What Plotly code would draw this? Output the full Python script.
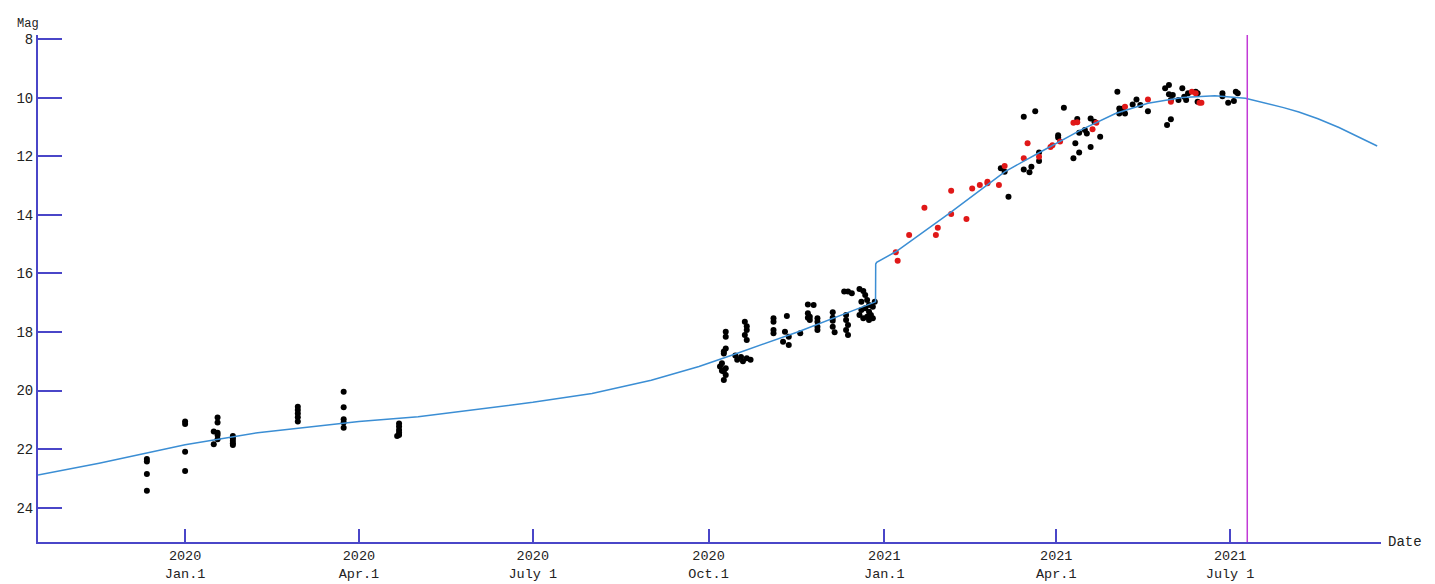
import plotly.graph_objects as go

# Observed magnitudes (black: visual / CCD, red: other observers)
obs_dates = [
    "2019-12-12", "2019-12-12", "2019-12-12", "2019-12-12",
    "2020-01-01", "2020-01-01", "2020-01-01", "2020-01-01",
    "2020-01-16", "2020-01-16", "2020-01-18", "2020-01-18", "2020-01-18", "2020-01-18", "2020-01-18",
    "2020-01-26", "2020-01-26", "2020-01-26", "2020-01-26", "2020-01-26",
    "2020-02-29", "2020-02-29", "2020-02-29", "2020-02-29", "2020-02-29",
    "2020-03-24", "2020-03-24", "2020-03-24", "2020-03-24", "2020-03-24",
    "2020-04-21", "2020-04-22", "2020-04-22", "2020-04-22", "2020-04-22", "2020-04-22",
    "2020-10-07", "2020-10-08", "2020-10-08", "2020-10-09", "2020-10-09", "2020-10-09",
    "2020-10-10", "2020-10-10", "2020-10-10", "2020-10-10", "2020-10-10", "2020-10-09",
    "2020-10-15", "2020-10-16", "2020-10-18", "2020-10-19", "2020-10-21", "2020-10-23",
    "2020-10-20", "2020-10-20", "2020-10-21", "2020-10-21", "2020-10-21",
    "2020-11-04", "2020-11-04", "2020-11-04", "2020-11-04",
    "2020-11-11", "2020-11-10", "2020-11-12", "2020-11-09", "2020-11-12",
    "2020-11-18",
    "2020-11-22", "2020-11-22", "2020-11-23", "2020-11-22", "2020-11-23", "2020-11-25",
    "2020-11-27", "2020-11-27", "2020-11-27", "2020-11-27",
    "2020-12-05", "2020-12-05", "2020-12-05", "2020-12-05", "2020-12-06",
    "2020-12-11", "2020-12-13", "2020-12-15",
    "2020-12-12", "2020-12-12", "2020-12-13", "2020-12-12", "2020-12-13",
    "2020-12-19", "2020-12-21", "2020-12-22", "2020-12-23", "2020-12-20", "2020-12-24",
    "2020-12-22", "2020-12-24", "2020-12-19", "2020-12-21", "2020-12-25", "2020-12-26",
    "2020-12-27", "2020-12-20", "2020-12-23", "2020-12-26", "2020-12-24",
    "2021-03-03", "2021-03-05", "2021-03-07", "2021-03-15", "2021-03-18", "2021-03-19",
    "2021-03-23", "2021-03-23", "2021-03-15", "2021-03-21", "2021-04-02", "2021-04-02",
    "2021-04-05", "2021-04-12", "2021-04-11", "2021-04-13", "2021-04-10", "2021-04-19",
    "2021-04-19", "2021-04-13", "2021-04-16", "2021-04-24", "2021-04-17", "2021-04-21",
    "2021-05-03", "2021-05-04", "2021-05-06", "2021-05-04", "2021-05-07",
    "2021-05-13", "2021-05-11", "2021-05-15", "2021-05-19",
    "2021-05-30", "2021-05-28", "2021-05-30", "2021-06-01", "2021-05-31", "2021-05-29",
    "2021-05-31", "2021-06-04", "2021-06-06", "2021-06-07", "2021-06-08",
    "2021-06-09", "2021-06-13", "2021-06-14", "2021-06-14",
    "2021-06-27", "2021-06-27", "2021-06-30", "2021-07-04", "2021-07-05", "2021-07-03",
]
obs_mags = [
    22.34, 22.42, 22.85, 23.42,
    21.06, 21.14, 22.09, 22.75,
    21.40, 21.83, 20.92, 21.09, 21.44, 21.52, 21.66,
    21.55, 21.63, 21.71, 21.80, 21.86,
    20.55, 20.66, 20.78, 20.91, 21.06,
    20.04, 20.57, 20.98, 21.09, 21.27,
    21.55, 21.12, 21.23, 21.35, 21.44, 21.52,
    19.18, 19.07, 19.32, 18.73, 18.67, 19.64,
    17.99, 18.16, 18.56, 19.24, 19.47, 19.35,
    18.80, 18.95, 18.85, 19.00, 18.90, 18.95,
    17.65, 18.10, 17.80, 17.93, 18.27,
    17.53, 17.65, 17.93, 18.04,
    17.45, 17.99, 18.16, 18.33, 18.44,
    18.04,
    17.06, 17.36, 17.48, 17.51, 17.59, 17.08,
    17.53, 17.65, 17.82, 17.93,
    17.33, 17.51, 17.62, 17.82, 18.01,
    16.62, 16.62, 16.68,
    17.42, 17.59, 17.76, 17.93, 18.10,
    16.53, 16.60, 16.74, 16.91, 16.97, 17.08,
    17.19, 17.31, 17.42, 17.53, 17.42, 17.14,
    16.97, 17.25, 17.48, 17.53, 17.59,
    12.41, 12.53, 13.38, 12.45, 12.55, 12.36,
    12.16, 11.87, 10.65, 10.46, 11.28, 11.36,
    10.34, 10.73, 11.56, 11.87, 12.07, 11.68,
    10.71, 11.20, 11.10, 11.33, 11.22, 10.82,
    9.80, 10.37, 10.37, 10.54, 10.54,
    10.06, 10.23, 10.25, 10.46,
    9.57, 9.68, 9.88, 9.91, 10.08, 10.93,
    10.74, 10.08, 9.68, 9.97, 10.08,
    9.85, 9.80, 9.85, 10.14,
    9.85, 9.95, 10.17, 9.80, 9.85, 10.11,
]

red_dates = [
    "2021-01-07", "2021-01-08", "2021-01-14", "2021-01-22", "2021-01-28", "2021-01-29",
    "2021-02-05", "2021-02-05", "2021-02-13", "2021-02-16", "2021-02-20", "2021-02-24",
    "2021-02-24", "2021-03-02", "2021-03-05", "2021-03-15", "2021-03-17", "2021-03-23",
    "2021-03-29", "2021-03-30", "2021-04-03", "2021-04-10", "2021-04-12", "2021-04-20",
    "2021-04-22", "2021-05-07", "2021-05-19", "2021-05-31", "2021-06-11", "2021-06-13",
    "2021-06-15", "2021-06-16",
]
red_mags = [
    15.28, 15.57, 14.69, 13.76, 14.69, 14.44,
    13.18, 13.97, 14.14, 13.10, 12.98, 12.92,
    12.87, 12.98, 12.33, 12.07, 11.56, 12.02,
    11.68, 11.62, 11.50, 10.86, 10.84, 11.08,
    10.86, 10.31, 10.06, 10.14, 9.80, 9.85,
    10.17, 10.17,
]

# Predicted light curve
curve_dates = [
    "2019-10-16", "2019-11-17", "2020-01-01", "2020-02-08", "2020-04-01", "2020-05-02",
    "2020-07-01", "2020-08-01", "2020-09-01", "2020-09-26", "2020-10-15", "2020-11-17",
    "2020-12-27 10:00", "2020-12-27 12:00", "2020-12-28", "2021-01-07", "2021-02-04",
    "2021-03-05", "2021-03-23", "2021-04-04", "2021-04-14", "2021-05-02", "2021-05-19",
    "2021-06-06", "2021-06-23", "2021-07-09", "2021-07-19", "2021-07-29", "2021-08-06",
    "2021-08-16", "2021-08-27", "2021-09-06", "2021-09-16",
]
curve_mags = [
    22.88, 22.48, 21.85, 21.44, 21.06, 20.89,
    20.40, 20.10, 19.65, 19.18, 18.75, 17.99,
    16.97, 15.68, 15.62, 15.26, 13.95,
    12.53, 11.88, 11.45, 11.10, 10.54, 10.19,
    9.99, 9.93, 10.02, 10.17, 10.34, 10.49,
    10.72, 11.02, 11.33, 11.65,
]

today = "2021-07-10"

tick_dates = ["2020-01-01", "2020-04-01", "2020-07-01", "2020-10-01",
              "2021-01-01", "2021-04-01", "2021-07-01"]
tick_text = ["2020<br>Jan.1", "2020<br>Apr.1", "2020<br>July 1", "2020<br>Oct.1",
             "2021<br>Jan.1", "2021<br>Apr.1", "2021<br>July 1"]
mag_ticks = [8, 10, 12, 14, 16, 18, 20, 22, 24]

AXIS = "#4a46c8"
FONT = "Liberation Mono"

fig = go.Figure()
fig.add_trace(go.Scatter(x=obs_dates, y=obs_mags, mode="markers",
                         marker=dict(color="black", size=6, line=dict(width=0)),
                         hoverinfo="x+y"))
fig.add_trace(go.Scatter(x=red_dates, y=red_mags, mode="markers",
                         marker=dict(color="#e01818", size=6, line=dict(width=0)),
                         hoverinfo="x+y"))
fig.add_trace(go.Scatter(x=curve_dates, y=curve_mags, mode="lines",
                         line=dict(color="#3b8ed4", width=1.5),
                         hoverinfo="x+y"))

fig.add_shape(type="line", xref="x", yref="paper", x0=today, x1=today, y0=0, y1=1,
              line=dict(color="#c23ad6", width=1.5))

fig.update_layout(
    width=1435, height=584,
    margin=dict(l=38, r=54, t=35, b=42, autoexpand=False),
    paper_bgcolor="white", plot_bgcolor="white",
    showlegend=False,
    font=dict(family=FONT, size=14, color="#222"),
    xaxis=dict(
        type="date", automargin=False,
        range=["2019-10-16", "2021-09-18"],
        tickvals=tick_dates, ticktext=tick_text,
        ticks="inside", ticklen=13, tickwidth=1.5, tickcolor=AXIS,
        ticklabelstandoff=0,
        showline=True, linecolor=AXIS, linewidth=2,
        showgrid=False, zeroline=False,
        tickfont=dict(family=FONT, size=13.5, color="#222"),
    ),
    yaxis=dict(
        automargin=False,
        range=[25.17, 7.86],
        tickvals=mag_ticks,
        ticks="inside", ticklen=24, tickwidth=1.5, tickcolor=AXIS,
        showline=True, linecolor=AXIS, linewidth=2,
        showgrid=False, zeroline=False,
        tickfont=dict(family=FONT, size=14, color="#222"),
    ),
    annotations=[
        dict(text="Mag", xref="paper", yref="paper", x=-0.0075, y=1.0,
             xanchor="center", yanchor="bottom", yshift=2, showarrow=False,
             font=dict(family=FONT, size=12, color="#222")),
        dict(text="Date", xref="paper", yref="paper", x=1.0, y=0,
             xanchor="left", yanchor="middle", xshift=5, showarrow=False,
             font=dict(family=FONT, size=14, color="#222")),
    ],
)

fig.write_html("out.html")
